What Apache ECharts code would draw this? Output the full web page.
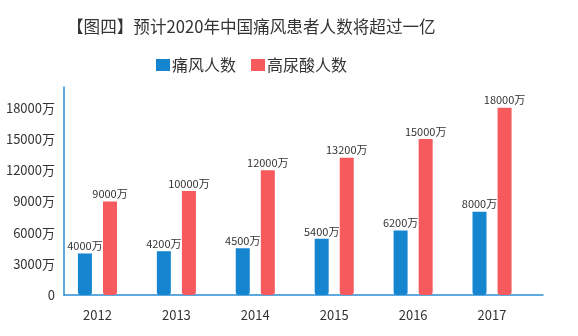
<!DOCTYPE html>
<html><head><meta charset="utf-8">
<script src="https://cdn.jsdelivr.net/npm/echarts@6/dist/echarts.min.js"></script>
<style>html,body{margin:0;padding:0;background:#fff}#c{width:578px;height:336px}</style>
</head><body><div id="c"></div>
<script>
const titleText = '【图四】预计2020年中国痛风患者人数将超过一亿';
const categories = ['2012','2013','2014','2015','2016','2017'];
const goutName = '痛风人数';
const goutValues = [4000,4200,4500,5400,6200,8000];
const hyperName = '高尿酸人数';
const hyperValues = [9000,10000,12000,13200,15000,18000];
const yTicks = [0,3000,6000,9000,12000,15000,18000];

const chart = echarts.init(document.getElementById('c'), null, {renderer:'canvas'});
const font = '"Noto Sans CJK SC", "Noto Sans", sans-serif';
const lbl = {show:true, position:'top', distance:2, color:'#333', fontSize:11, fontFamily:font,
  formatter: p => p.value + '万'};
chart.setOption({
  animation:false,
  title:{text:titleText, left:62, top:13,
    textStyle:{fontSize:16.6, fontWeight:'normal', color:'#333', fontFamily:font}},
  legend:{top:52, left:151, itemWidth:14, itemHeight:12, itemGap:15,
    textStyle:{fontSize:16, color:'#333', fontFamily:font, padding:[0,0,0,-3]},
    data:[{name:goutName, icon:'rect'},{name:hyperName, icon:'rect'}]},
  grid:[
    {left:58, right:46.5, top:87, bottom:41},
    {left:64, right:35, top:87, bottom:41}
  ],
  xAxis:[
    {type:'category', data:categories, gridIndex:0,
      axisLine:{show:false}, axisTick:{show:false},
      axisLabel:{margin:14, fontSize:13, color:'#333', fontFamily:font}},
    {type:'value', gridIndex:1, min:0, max:1,
      axisLine:{show:true, lineStyle:{color:'#2a8ed3', width:1.5}},
      axisTick:{show:false}, axisLabel:{show:false}, splitLine:{show:false}}
  ],
  yAxis:[
    {type:'value', gridIndex:0, min:0, max:20000, interval:3000,
      axisLine:{show:false}, axisTick:{show:false}, splitLine:{show:false},
      axisLabel:{margin:3, fontSize:13, color:'#333', fontFamily:font, padding:[0,0,5,0],
        formatter: v => yTicks.includes(v) ? (v === 0 ? '0' : v + '万') : ''}},
    {type:'value', gridIndex:1, min:0, max:1,
      axisLine:{show:true, lineStyle:{color:'#2a8ed3', width:1.5}},
      axisTick:{show:false}, axisLabel:{show:false}, splitLine:{show:false}}
  ],
  series:[
    {name:goutName, type:'bar', xAxisIndex:0, yAxisIndex:0, data:goutValues,
      barWidth:14, barGap:'79%',
      itemStyle:{color:'#1585d0', borderRadius:[0,0,3,3]}, label:lbl},
    {name:hyperName, type:'bar', xAxisIndex:0, yAxisIndex:0, data:hyperValues,
      barWidth:14, barGap:'79%',
      itemStyle:{color:'#f65a5c', borderRadius:[0,0,3,3]}, label:lbl}
  ]
});
</script></body></html>
